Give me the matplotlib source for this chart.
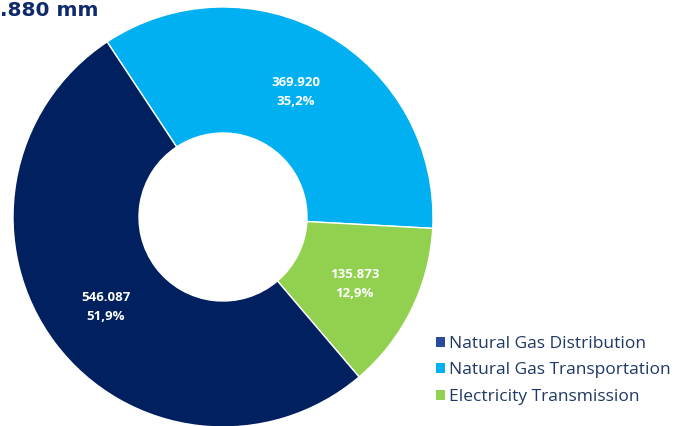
import matplotlib
matplotlib.use("Agg")
import matplotlib.pyplot as plt
from matplotlib.patches import Patch
import numpy as np

# Data (pie drawing order, clockwise from top-left)
categories = ["Natural Gas Transportation", "Electricity Transmission", "Natural Gas Distribution"]
values = [369.920, 135.873, 546.087]
value_labels = ["369.920", "135.873", "546.087"]
pct_labels = ["35,2%", "12,9%", "51,9%"]
colors = ["#00B0F0", "#92D050", "#002060"]

legend_order = ["Natural Gas Distribution", "Natural Gas Transportation", "Electricity Transmission"]
legend_colors = ["#2A4A9A", "#00B0F0", "#92D050"]
title_text = ".880 mm"

W, H = 679, 426
fig = plt.figure(figsize=(W / 100, H / 100), dpi=100)
cx, cy, r = 223, 426 - 217, 210
ax = fig.add_axes([(cx - r) / W, (cy - r) / H, 2 * r / W, 2 * r / H])

wedges, _ = ax.pie(values, colors=colors, startangle=123.5, counterclock=False,
                   radius=1.0, wedgeprops=dict(width=0.6, edgecolor="white", linewidth=1))
ax.set_xlim(-1, 1)
ax.set_ylim(-1, 1)
ax.set_aspect("equal")
ax.axis("off")

for w, v, p in zip(wedges, value_labels, pct_labels):
    ang = np.deg2rad((w.theta1 + w.theta2) / 2)
    d = 0.70
    ax.text(d * np.cos(ang), d * np.sin(ang) - 0.01, v + "\n" + p, ha="center", va="center",
            color="white", fontsize=9.5, fontweight="bold", family="Open Sans", linespacing=1.6)

fig.text(0.5 / W, 1 - 16.5 / H, title_text, ha="left", va="baseline", fontsize=14.5,
         fontweight="bold", color="#0F2A6B", family="DejaVu Sans")

handles = [Patch(facecolor=c, edgecolor="none") for c in legend_colors]
leg = fig.legend(handles, legend_order, loc="upper left", bbox_to_anchor=(436 / W, 1 - 336 / H),
                 frameon=False, handlelength=0.5, handleheight=0.5,
                 handletextpad=0.25, labelspacing=0.6, borderaxespad=0, borderpad=0,
                 prop={"family": "Open Sans", "size": 12.5})
for t in leg.get_texts():
    t.set_color("#1F3864")

fig.savefig("out.png", dpi=100)
